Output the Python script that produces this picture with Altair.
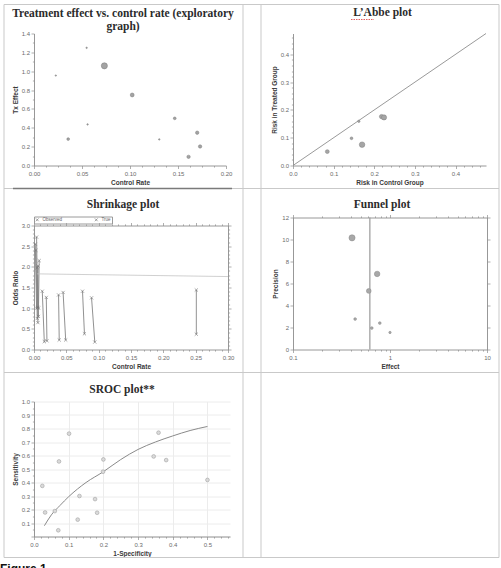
import json
import altair as alt
import pandas as pd

# ---------------- data ----------------
# Panel 1: Treatment effect vs. control rate
p1_control = [0.0227, 0.0548, 0.0733, 0.1023, 0.0356, 0.0558, 0.1305, 0.1466, 0.170, 0.173, 0.161]
p1_effect = [0.954, 1.248, 1.057, 0.748, 0.280, 0.436, 0.277, 0.500, 0.348, 0.202, 0.092]
p1_weight = [0.5, 0.6, 10, 4, 2, 0.6, 0.6, 2, 3, 3, 3]

# Panel 2: L'Abbe plot
p2_control = [0.0844, 0.144, 0.162, 0.170, 0.218, 0.224]
p2_treated = [0.050, 0.098, 0.159, 0.075, 0.176, 0.173]
p2_weight = [4, 2, 1.5, 8, 5, 7]
p2_diag = [0.0, 0.475]

# Panel 3: Shrinkage plot (observed -> true)
p3_obs_x = [0.002, 0.004, 0.003, 0.006, 0.008, 0.005, 0.0128, 0.019, 0.038, 0.045, 0.075, 0.089, 0.251]
p3_obs_y = [2.55, 2.72, 2.40, 2.02, 2.15, 1.98, 1.41, 1.26, 1.32, 1.38, 1.41, 1.25, 1.44]
p3_true_x = [0.004, 0.006, 0.005, 0.007, 0.007, 0.006, 0.0159, 0.020, 0.039, 0.049, 0.078, 0.094, 0.251]
p3_true_y = [1.00, 0.65, 0.75, 0.80, 1.00, 1.02, 0.19, 0.21, 0.23, 0.23, 0.38, 0.18, 0.37]
p3_trend_x = [0.005, 0.30]
p3_trend_y = [1.83, 1.765]

# Panel 4: Funnel plot
p4_effect = [0.406, 0.737, 0.604, 0.437, 0.649, 0.785, 1.0]
p4_precision = [10.15, 6.87, 5.32, 2.77, 1.95, 2.40, 1.55]
p4_weight = [10, 8, 6, 2, 2, 2, 1.5]
p4_pooled = [0.62]

# Panel 5: SROC plot
p5_fpr = [0.024, 0.032, 0.060, 0.072, 0.070, 0.101, 0.126, 0.131, 0.176, 0.182, 0.200, 0.199, 0.345, 0.359, 0.381, 0.5]
p5_sens = [0.375, 0.178, 0.188, 0.556, 0.046, 0.762, 0.125, 0.300, 0.277, 0.176, 0.571, 0.480, 0.593, 0.769, 0.566, 0.419]
p5_curve_x = [0.03, 0.05, 0.075, 0.10, 0.15, 0.20, 0.25, 0.30, 0.35, 0.40, 0.45, 0.50]
p5_curve_y = [0.08, 0.16, 0.23, 0.295, 0.40, 0.48, 0.57, 0.645, 0.70, 0.745, 0.785, 0.815]


def ticks(start, stop, step):
    n = int(round((stop - start) / step))
    return [round(start + i * step, 6) for i in range(n + 1)]


def axis(major, minor, fmt, labeled=None, grid=False, **kw):
    labeled = major if labeled is None else labeled
    vals = sorted(set(round(v, 6) for v in list(major) + list(minor)))
    mj = json.dumps(major)
    lb = json.dumps(labeled)
    props = dict(
        values=vals,
        labelExpr=f"indexof({lb}, datum.value) >= 0 ? format(datum.value, '{fmt}') : ''",
        tickSize={"condition": {"test": f"indexof({mj}, datum.value) >= 0", "value": 3}, "value": 1.6},
        grid=grid,
    )
    if grid:
        props["gridOpacity"] = {"condition": {"test": f"indexof({mj}, datum.value) >= 0", "value": 1}, "value": 0}
        props["gridColor"] = "#ececec"
    props.update(kw)
    return alt.Axis(**props)


def title(text, dx, offset, lh=13, dy=0):
    return alt.TitleParams(text=text, anchor="middle", frame="group", dx=dx, dy=dy, offset=offset,
                           font="Liberation Serif", fontSize=11.5, fontWeight="bold",
                           color="#2b2b2b", lineHeight=lh)


one = pd.DataFrame({"k": [0]})

# ---------------- Panel 1 ----------------
df1 = pd.DataFrame({"x": p1_control, "y": p1_effect, "w": p1_weight})
x1 = alt.X("x:Q", scale=alt.Scale(domain=[0, 0.2], nice=False, zero=False),
           axis=axis(ticks(0, 0.2, 0.05), ticks(0, 0.2, 0.0125), ".2f", title="Control Rate"))
y1 = alt.Y("y:Q", scale=alt.Scale(domain=[0, 1.4], nice=False),
           axis=axis(ticks(0, 1.4, 0.2), ticks(0, 1.4, 0.1), ".1f", title="Tx Effect"))
p1 = alt.Chart(df1).mark_circle(fill="#a3a3a3", stroke="#7a7a7a", strokeWidth=0.5, opacity=1).encode(
    x=x1, y=y1, size=alt.Size("w:Q", scale=alt.Scale(domain=[0, 10], range=[0, 38]), legend=None)
).properties(width=192, height=132,
             title=title(["Treatment effect vs. control rate (exploratory", "graph)"], -7, 1, lh=13, dy=2.5))

# ---------------- Panel 2 ----------------
df2 = pd.DataFrame({"x": p2_control, "y": p2_treated, "w": p2_weight})
dfd = pd.DataFrame({"x": p2_diag, "y": p2_diag})
x2 = alt.X("x:Q", scale=alt.Scale(domain=[0, 0.475], nice=False),
           axis=axis(ticks(0, 0.4, 0.1), ticks(0, 0.46, 0.02), ".1f", title="Risk in Control Group"))
y2 = alt.Y("y:Q", scale=alt.Scale(domain=[0, 0.475], nice=False),
           axis=axis(ticks(0, 0.4, 0.1), ticks(0, 0.46, 0.02), ".1f", title="Risk in Treated Group"))
diag = alt.Chart(dfd).mark_line(color="#9a9a9a", strokeWidth=1).encode(x=x2, y=y2)
pts2 = alt.Chart(df2).mark_circle(fill="#a5a5a5", stroke="#7f7f7f", strokeWidth=0.5, opacity=1).encode(
    x=x2, y=y2, size=alt.Size("w:Q", scale=alt.Scale(domain=[0, 10], range=[0, 36]), legend=None))
p2 = alt.layer(diag, pts2).properties(width=193, height=132, title=title("L\u2019Abbe plot", -7, 13))

# ---------------- Panel 3 ----------------
df3seg = pd.DataFrame({"x": p3_obs_x, "y": p3_obs_y, "x2": p3_true_x, "y2": p3_true_y})
df3pts = pd.DataFrame({
    "x": p3_obs_x + p3_true_x,
    "y": p3_obs_y + p3_true_y,
    "kind": ["Observed"] * len(p3_obs_x) + ["True"] * len(p3_true_x),
})
df3tr = pd.DataFrame({"x": p3_trend_x, "y": p3_trend_y})
xs3 = alt.Scale(domain=[0, 0.30], nice=False)
ys3 = alt.Scale(domain=[0, 3.0], nice=False, range=[132, 8])
x3maj, x3min = ticks(0, 0.30, 0.05), ticks(0, 0.30, 0.01)
y3maj, y3min = ticks(0, 3.0, 0.5), ticks(0, 3.0, 0.1)
x3 = alt.X("x:Q", scale=xs3, axis=axis(x3maj, x3min, ".2f", title="Control Rate"))
y3 = alt.Y("y:Q", scale=ys3, axis=axis(y3maj, y3min, ".1f", title="Odds Ratio"))
XPATH = "M-1,-1L1,1M-1,1L1,-1"
seg = alt.Chart(df3seg).mark_rule(color="#858585", strokeWidth=0.9).encode(
    x=x3, y=y3, x2="x2:Q", y2="y2:Q")
trend = alt.Chart(df3tr).mark_line(color="#c4c4c4", strokeWidth=0.8).encode(x=x3, y=y3)
pts3 = alt.Chart(df3pts).mark_point(filled=False, color="#707070", strokeWidth=0.6, size=10, opacity=1).encode(
    x=x3, y=y3,
    shape=alt.Shape("kind:N", scale=alt.Scale(domain=["Observed", "True"], range=[XPATH, XPATH]),
                    legend=alt.Legend(orient="none", legendX=0, legendY=183, direction="horizontal",
                                      title=None, strokeColor="#9a9a9a", padding=1, labelFontSize=4.5,
                                      labelColor="#666", symbolSize=8, symbolStrokeColor="#666",
                                      symbolStrokeWidth=0.6, columnPadding=30, labelOffset=3)))
frame3 = alt.Chart(df3pts).mark_point(opacity=0).encode(
    x=alt.X("x:Q", scale=xs3, axis=axis(x3maj, x3min, ".2f", orient="top", labels=False, title=None, offset=-8)),
    y=alt.Y("y:Q", scale=ys3, axis=axis(y3maj, y3min, ".1f", orient="right", labels=False, title=None)))
p3 = alt.layer(alt.layer(seg, trend, pts3), frame3).resolve_axis(x="independent", y="independent").properties(
    width=194, height=132, title=title("Shrinkage plot", -8, 7))

# ---------------- Panel 4 ----------------
df4 = pd.DataFrame({"x": p4_effect, "y": p4_precision, "w": p4_weight})
df4v = pd.DataFrame({"x": p4_pooled})
xs4 = alt.Scale(type="log", domain=[0.1, 10], nice=False)
ys4 = alt.Scale(domain=[0, 12], nice=False)
x4maj = [0.1, 1, 10]
x4min = ticks(0.2, 0.9, 0.1) + ticks(2, 9, 1)
y4maj = ticks(0, 12, 2)
x4 = alt.X("x:Q", scale=xs4, axis=axis(x4maj, x4min, "~g", title="Effect"))
y4 = alt.Y("y:Q", scale=ys4, axis=axis(y4maj, [], "d", title="Precision"))
vl4 = alt.Chart(df4v).mark_rule(color="#9a9a9a", strokeWidth=1.2).encode(x=x4)
pts4 = alt.Chart(df4).mark_circle(fill="#a8a8a8", stroke="#888888", strokeWidth=0.5, opacity=1).encode(
    x=x4, y=y4, size=alt.Size("w:Q", scale=alt.Scale(domain=[0, 10], range=[0, 30]), legend=None))
frame4 = alt.Chart(df4).mark_point(opacity=0).encode(
    x=alt.X("x:Q", scale=xs4, axis=axis(x4maj, x4min, "~g", orient="top", labels=False, title=None)),
    y=alt.Y("y:Q", scale=ys4, axis=axis(y4maj, [], "d", orient="right", labels=False, title=None)))
p4 = alt.layer(alt.layer(vl4, pts4), frame4).resolve_axis(x="independent", y="independent").properties(
    width=194, height=132, title=title("Funnel plot", -8, 4))

# ---------------- Panel 5 ----------------
df5 = pd.DataFrame({"x": p5_fpr, "y": p5_sens})
df5c = pd.DataFrame({"x": p5_curve_x, "y": p5_curve_y})
x5 = alt.X("x:Q", scale=alt.Scale(domain=[0, 0.565], nice=False),
           axis=axis(ticks(0, 0.5, 0.1), ticks(0, 0.56, 0.02), ".1f", grid=True, title="1-Specificity"))
y5 = alt.Y("y:Q", scale=alt.Scale(domain=[0, 1.0], nice=False),
           axis=axis(ticks(0, 1.0, 0.1), ticks(0, 1.0, 0.05), ".1f", labeled=ticks(0.1, 1.0, 0.1),
                     grid=True, title="Sensitivity"))
curve = alt.Chart(df5c).mark_line(color="#8a8a8a", strokeWidth=1, interpolate="monotone").encode(x=x5, y=y5)
pts5 = alt.Chart(df5).mark_circle(fill="#dadada", stroke="#a3a3a3", strokeWidth=0.6, size=14, opacity=1).encode(
    x=x5, y=y5)
p5 = alt.layer(curve, pts5).properties(width=196, height=135, title=title("SROC plot**", -10, 3))

# ---------------- empty bottom-right cell: table lines + caption (decoration) ----------------
# pixel offsets relative to this cell's plot origin (page x=293, y=401)
def hline(x0, x1_, y, color="#c9c9c9", w=1.0, dash=None):
    kw = dict(color=color, strokeWidth=w)
    if dash:
        kw["strokeDash"] = dash
    return alt.Chart(one).mark_rule(**kw).encode(
        x=alt.value(x0), x2=alt.value(x1_), y=alt.value(y), y2=alt.value(y))

def vline(x, y0, y1_, color="#c9c9c9", w=1.0):
    return alt.Chart(one).mark_rule(color=color, strokeWidth=w).encode(
        x=alt.value(x), x2=alt.value(x), y=alt.value(y0), y2=alt.value(y1_))

table = [
    hline(-289, 206, -397), hline(-289, 206, 156), hline(-289, 206, -213), hline(-289, 206, -29),
    vline(-289, -397, 156), vline(206, -397, 156), vline(-50, -397, 156), vline(-32, -397, 156),
    hline(-280, -61, -213, color="#7a7a7a", w=1.5),
    hline(58, 81, -382, color="#e06060", w=1, dash=[1.5, 1]),
]
fig_text = alt.Chart(one).mark_text(text="Figure 1", align="left", baseline="alphabetic",
                                    font="Liberation Sans", fontSize=12, fontWeight="bold",
                                    color="#111").encode(x=alt.value(-293), y=alt.value(171))
p6 = alt.layer(*table, fig_text).properties(width=194, height=135)

chart = alt.concat(p1, p2, p3, p4, p5, p6, columns=2, spacing={"row": 52, "column": 63},
                   bounds="flush").properties(
    padding={"left": 0, "top": 3.5, "right": 0, "bottom": 0}
).configure_view(stroke=None).configure_axis(
    domainColor="#8c8c8c", tickColor="#8c8c8c", labelColor="#6b6b6b", labelFont="Liberation Sans",
    labelFontSize=6, titleFont="Liberation Sans", titleFontSize=6.5, titleFontWeight="bold",
    titleColor="#3a3a3a", labelPadding=1.5, titlePadding=3, tickWidth=0.7, domainWidth=0.9,
    labelOverlap=False, labelFlush=False
).configure_legend(labelFont="Liberation Sans")

chart.save("out.html", embed_options={"renderer": "svg", "actions": False})
